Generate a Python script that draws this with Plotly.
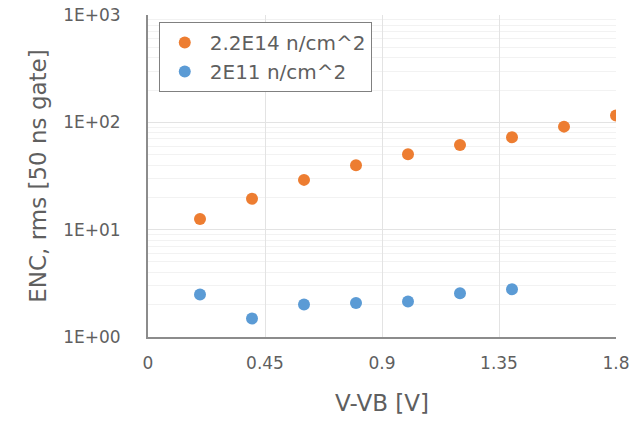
import plotly.graph_objects as go

x_hi = [0.2, 0.4, 0.6, 0.8, 1.0, 1.2, 1.4, 1.6, 1.8]
enc_hi = [12.6, 19.4, 29.1, 39.9, 50.4, 61.6, 72.6, 91.2, 116]
x_lo = [0.2, 0.4, 0.6, 0.8, 1.0, 1.2, 1.4]
enc_lo = [2.49, 1.49, 2.01, 2.07, 2.14, 2.56, 2.79]

names = ["2.2E14 n/cm^2", "2E11 n/cm^2"]
colors = ["#ED7D31", "#5B9BD5"]
y_tickvals = [1, 10, 100, 1000]
y_ticktext = ["1E+00", "1E+01", "1E+02", "1E+03"]
y_minor = [m * d for d in (1, 10, 100) for m in range(2, 10)]
x_tickvals = [0, 0.45, 0.9, 1.35, 1.8]
x_ticktext = ["0", "0.45", "0.9", "1.35", "1.8"]

FONT = "DejaVu Sans"
TXT = "#5f5f5f"

fig = go.Figure()
fig.add_trace(go.Scatter(x=x_hi, y=enc_hi, mode="markers", name=names[0],
                         marker=dict(color=colors[0], size=12)))
fig.add_trace(go.Scatter(x=x_lo, y=enc_lo, mode="markers", name=names[1],
                         marker=dict(color=colors[1], size=12)))

fig.update_layout(
    width=641, height=421,
    margin=dict(l=148, r=25, t=15, b=84),
    paper_bgcolor="white", plot_bgcolor="white",
    font=dict(family=FONT, color=TXT, size=17),
    legend=dict(x=0.023, y=0.978, xanchor="left", yanchor="top",
                bordercolor="#808080", borderwidth=1, bgcolor="white",
                font=dict(size=20, color=TXT), tracegroupgap=0,
                itemwidth=40),
    showlegend=True,
)
fig.update_xaxes(
    range=[0, 1.8], tickvals=x_tickvals, ticktext=x_ticktext,
    showgrid=True, gridcolor="#e3e3e3", gridwidth=1,
    showline=True, linecolor="#8c8c8c", linewidth=2,
    ticks="", ticklabelstandoff=10, zeroline=False,
    tickfont=dict(size=17, color=TXT),
    title=dict(text="V-VB [V]", font=dict(size=23, color=TXT), standoff=22),
    automargin=False,
)
fig.update_yaxes(
    type="log", range=[0, 3], tickvals=y_tickvals, ticktext=y_ticktext,
    showgrid=True, gridcolor="#e3e3e3", gridwidth=1,
    minor=dict(showgrid=True, gridcolor="#f2f2f2", gridwidth=1, ticks="",
               tickvals=y_minor),
    showline=True, linecolor="#8c8c8c", linewidth=2,
    ticks="", ticklabelstandoff=22, zeroline=False,
    tickfont=dict(size=17, color=TXT),
    title=dict(text="ENC, rms [50 ns gate]", font=dict(size=23, color=TXT), standoff=10),
    automargin=False,
)

fig.write_html("out.html")
